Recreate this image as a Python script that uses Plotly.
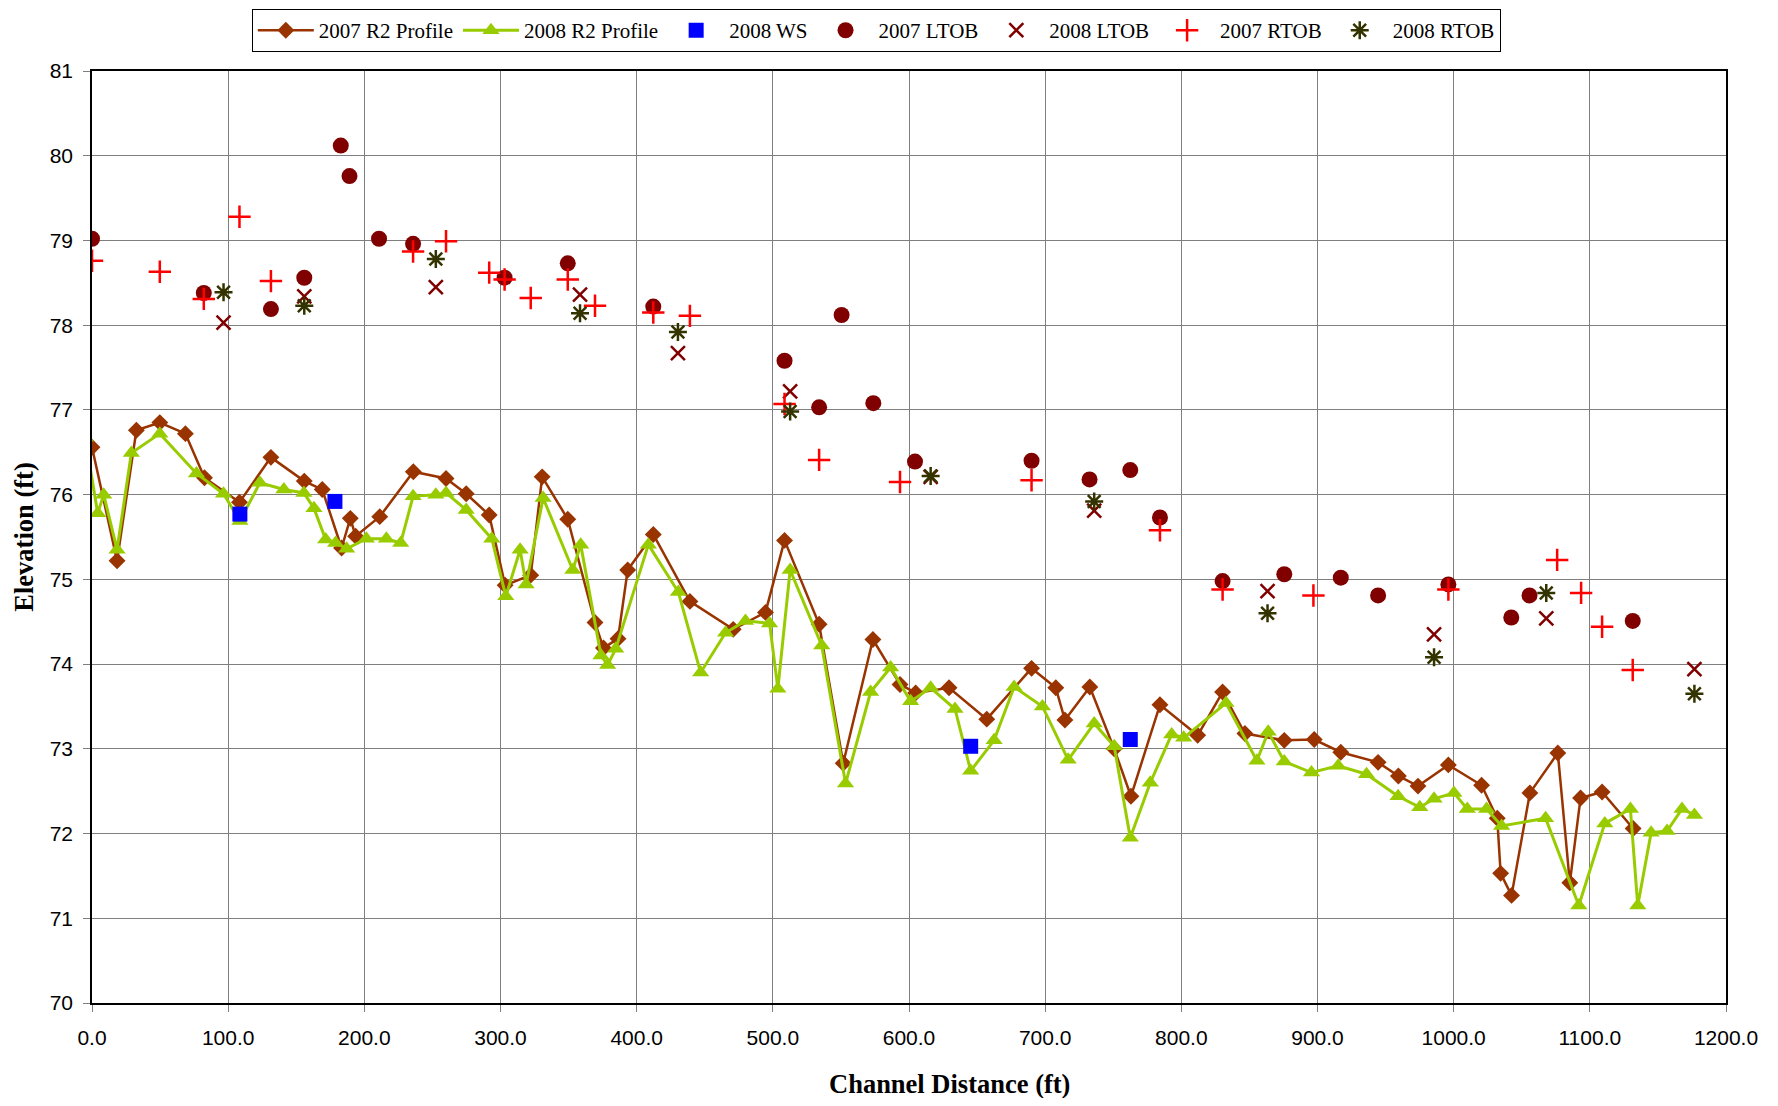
import plotly.graph_objects as go

# 2007 R2 Profile
p07_x = [0, 18.4, 32.6, 49.8, 68.6, 82.6, 108.3, 131.4, 155.9, 169.1, 183.3, 189.7, 193.6, 211.3, 236.0, 260.0,
         274.8, 291.7, 303.4, 322.2, 330.6, 349.4, 369.4, 375.6, 386.3, 393.4, 412.2, 439.1, 470.9, 494.6, 508.6,
         534.0, 551.7, 573.5, 593.4, 604.9, 629.4, 657.1, 690.0, 707.8, 714.5, 732.8, 750.7, 763.0, 784.3, 812.0,
         830.3, 846.7, 875.6, 897.6, 917.1, 944.5, 959.4, 973.8, 996.1, 1020.5, 1032.0, 1034.5, 1042.5, 1056.0,
         1076.5, 1085.3, 1093.2, 1109.0, 1131.8]
p07_y = [76.56, 75.22, 76.76, 76.85, 76.72, 76.20, 75.91, 76.44, 76.16, 76.06, 75.37, 75.72, 75.51, 75.74, 76.27, 76.19,
         76.01, 75.76, 74.93, 75.05, 76.21, 75.71, 74.49, 74.19, 74.30, 75.11, 75.53, 74.74, 74.41, 74.61, 75.46,
         74.47, 72.83, 74.29, 73.76, 73.66, 73.72, 73.35, 73.95, 73.72, 73.34, 73.73, 73.00, 72.44, 73.52, 73.16,
         73.67, 73.18, 73.10, 73.11, 72.96, 72.84, 72.68, 72.56, 72.81, 72.57, 72.18, 71.53, 71.27, 72.48,
         72.95, 71.42, 72.42, 72.49, 72.06]

# 2008 R2 Profile
p08_x = [-5.0, 4.2, 8.6, 18.4, 28.9, 49.8, 76.7, 96.6, 108.6, 123.3, 140.9, 155.6, 163.0, 171.6, 178.9, 187.0, 201.5,
         216.2, 226.7, 235.8, 252.5, 260.0, 274.8, 293.6, 303.9, 314.4, 318.8, 331.3, 353.1, 358.9, 373.8, 378.7,
         384.6, 408.6, 430.6, 447.0, 465.3, 479.9, 497.6, 503.7, 512.7, 535.9, 553.4, 571.8, 586.5, 601.2, 615.9,
         633.8, 645.3, 662.5, 677.2, 698.0, 716.9, 736.0, 750.7, 762.5, 777.2, 792.9, 801.7, 832.8, 855.5, 863.8,
         875.6, 895.6, 915.2, 936.0, 959.2, 975.1, 985.6, 1000.2, 1010.0, 1024.2, 1035.2, 1067.5, 1091.9, 1111.0,
         1129.8, 1135.2, 1145.0, 1156.7, 1167.7, 1176.8]
p08_y = [76.67, 75.78, 76.00, 75.35, 76.49, 76.72, 76.25, 76.01, 75.69, 76.14, 76.06, 76.02, 75.84, 75.47, 75.43, 75.36, 75.48,
         75.48, 75.43, 75.98, 76.00, 76.02, 75.82, 75.48, 74.80, 75.35, 74.94, 75.96, 75.11, 75.41, 74.10, 73.99,
         74.18, 75.41, 74.85, 73.90, 74.37, 74.51, 74.48, 73.71, 75.11, 74.22, 72.59, 73.67, 73.96, 73.56, 73.72,
         73.47, 72.74, 73.10, 73.73, 73.50, 72.87, 73.30, 73.03, 71.95, 72.60, 73.17, 73.13, 73.54, 72.86, 73.20,
         72.85, 72.72, 72.80, 72.70, 72.44, 72.31, 72.41, 72.48, 72.29, 72.29, 72.09, 72.18, 71.15, 72.12,
         72.29, 71.15, 72.01, 72.03, 72.29, 72.22]

# 2008 WS
ws08_x = [108.6, 178.4, 645.3, 762.5]
ws08_y = [75.77, 75.92, 73.03, 73.11]

# 2007 LTOB
lt07_x = [0, 82.1, 131.4, 155.9, 182.7, 189.1, 210.8, 235.8, 303.0, 349.4, 412.2, 508.6, 534.0, 550.5, 573.8,
          604.4, 690.0, 732.6, 762.5, 784.3, 830.3, 875.6, 917.1, 944.5, 996.1, 1042.3, 1055.7, 1131.5]
lt07_y = [79.02, 78.38, 78.19, 78.56, 80.12, 79.76, 79.02, 78.96, 78.56, 78.73, 78.22, 77.58, 77.03, 78.12, 77.08,
          76.39, 76.40, 76.18, 76.29, 75.73, 74.98, 75.06, 75.02, 74.81, 74.94, 74.55, 74.81, 74.51]

# 2008 LTOB
lt08_x = [96.6, 155.9, 252.5, 358.4, 430.3, 512.7, 615.9, 736.0, 863.3, 985.6, 1068.0, 1176.8]
lt08_y = [78.03, 78.34, 78.45, 78.36, 77.67, 77.22, 76.21, 75.81, 74.86, 74.35, 74.54, 73.94]

# 2007 RTOB
rt07_x = [0, 49.8, 82.1, 108.3, 131.4, 235.8, 260.0, 291.7, 303.0, 322.2, 349.4, 369.4, 412.2, 439.1, 508.6,
          534.0, 593.4, 690.0, 784.3, 830.3, 897.0, 996.1, 1076.0, 1093.6, 1109.0, 1131.5]
rt07_y = [78.76, 78.63, 78.31, 79.28, 78.52, 78.87, 78.99, 78.62, 78.54, 78.32, 78.54, 78.23, 78.15, 78.11, 77.07,
          76.41, 76.15, 76.17, 75.58, 74.88, 74.81, 74.88, 75.23, 74.84, 74.44, 73.93]

# 2008 RTOB
rt08_x = [96.6, 155.9, 252.5, 358.4, 430.3, 512.7, 615.9, 736.0, 863.3, 985.6, 1068.0, 1176.8]
rt08_y = [78.39, 78.23, 78.78, 78.14, 77.92, 76.98, 76.22, 75.92, 74.60, 74.08, 74.84, 73.65]

x_ticks = [0, 100, 200, 300, 400, 500, 600, 700, 800, 900, 1000, 1100, 1200]

fig = go.Figure()
fig.add_trace(go.Scatter(x=p07_x, y=p07_y, mode="lines+markers", name="2007 R2 Profile",
                         line=dict(color="#993300", width=2.5),
                         marker=dict(symbol="diamond", size=13, color="#993300")))
fig.add_trace(go.Scatter(x=p08_x, y=p08_y, mode="lines+markers", name="2008 R2 Profile",
                         line=dict(color="#99CC00", width=3),
                         marker=dict(symbol="triangle-up", size=15, color="#99CC00")))
fig.add_trace(go.Scatter(x=ws08_x, y=ws08_y, mode="markers", name="2008 WS",
                         marker=dict(symbol="square", size=15, color="#0000FF")))
fig.add_trace(go.Scatter(x=lt07_x, y=lt07_y, mode="markers", name="2007 LTOB",
                         marker=dict(symbol="circle", size=16, color="#800000")))
fig.add_trace(go.Scatter(x=lt08_x, y=lt08_y, mode="markers", name="2008 LTOB",
                         marker=dict(symbol="x-thin-open", size=14, color="#800000",
                                     line=dict(width=2.5, color="#800000"))))
fig.add_trace(go.Scatter(x=rt07_x, y=rt07_y, mode="markers", name="2007 RTOB",
                         marker=dict(symbol="cross-thin-open", size=16, color="#FF0000",
                                     line=dict(width=2.5, color="#FF0000"))))
fig.add_trace(go.Scatter(x=rt08_x, y=rt08_y, mode="markers", name="2008 RTOB",
                         marker=dict(symbol="asterisk-open", size=15, color="#333300",
                                     line=dict(width=2.5, color="#333300"))))

axis_common = dict(showline=True, linecolor="black", linewidth=1.5, mirror=True,
                   showgrid=True, gridcolor="#7f7f7f", gridwidth=1,
                   ticks="outside", ticklen=7, tickcolor="#7f7f7f",
                   tickfont=dict(family="Liberation Sans, Arial", size=21, color="black"),
                   zeroline=False, automargin=False)

fig.update_layout(
    width=1762, height=1090,
    paper_bgcolor="white", plot_bgcolor="white",
    margin=dict(l=84, r=44, t=63, b=95),
    xaxis=dict(range=[0, 1200], tickvals=x_ticks, ticktext=[f"{v:.1f}" for v in x_ticks],
               ticklabelstandoff=8, **axis_common),
    yaxis=dict(range=[70, 81], dtick=1, ticklabelstandoff=6,
               title=dict(text="<b>Elevation (ft)</b>", standoff=8,
                          font=dict(family="Liberation Serif, Times New Roman", size=26.5, color="black")),
               **axis_common),
    legend=dict(orientation="h", x=0.48, xanchor="center", xref="paper",
                y=0.999, yanchor="top", yref="container",
                font=dict(family="Liberation Serif, Times New Roman", size=21, color="black"),
                bordercolor="black", borderwidth=1, bgcolor="white",
                itemwidth=56, tracegroupgap=0),
    showlegend=True,
    annotations=[dict(text="<b>Channel Distance (ft)</b>", xref="paper", yref="paper",
                      x=0.525, y=-0.0865, xanchor="center", yanchor="middle", showarrow=False,
                      font=dict(family="Liberation Serif, Times New Roman", size=26.5, color="black"))],
)

fig.write_html("out.html")
